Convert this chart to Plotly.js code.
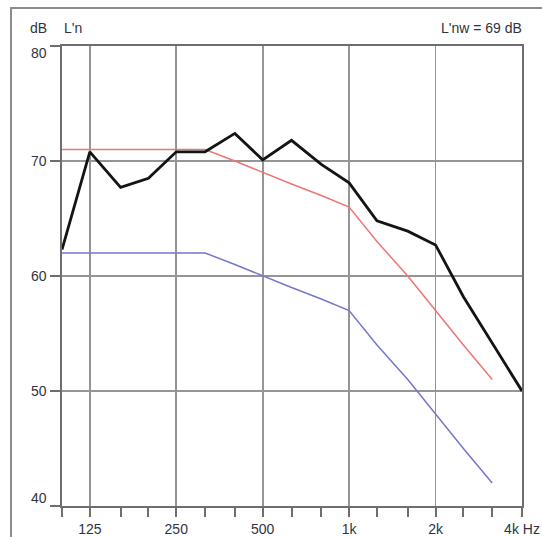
<!DOCTYPE html>
<html>
<head>
<meta charset="utf-8">
<script src="https://cdn.plot.ly/plotly-3.0.1.min.js"></script>
<style>
html,body{margin:0;padding:0;background:#fff;}
#frame{position:absolute;left:10px;top:7px;width:600px;height:600px;border-left:2px solid #8c8c8c;border-top:2px solid #8c8c8c;}
#chart{position:absolute;left:0;top:0;width:542px;height:537px;}
</style>
</head>
<body>
<div id="frame"></div>
<div id="chart"></div>
<script>
// Third-octave band centre frequencies (Hz)
const freqs = [100,125,160,200,250,315,400,500,630,800,1000,1250,1600,2000,2500,3150,4000];
// Measured L'n (dB)
const measured = [62.3,70.8,67.7,68.5,70.8,70.8,72.4,70.1,71.8,69.7,68.1,64.8,63.9,62.7,58.2,54.2,50.0];
// Reference curve bands
const refFreqs = [100,125,160,200,250,315,400,500,630,800,1000,1250,1600,2000,2500,3150];
// ISO 717-2 reference curve
const refCurve = [62,62,62,62,62,62,61,60,59,58,57,54,51,48,45,42];
// Shifted reference curve
const shiftedCurve = [71,71,71,71,71,71,70,69,68,67,66,63,60,57,54,51];
// Axis ticks
const majorTicks = [125,250,500,1000,2000,4000];
const majorLabels = ['125','250','500','1k','2k','4k Hz'];
const yTicks = [40,50,60,70,80];
const yLabels = ['40','50','60','70','80'];
const yLabelShift = [8,0,0,0,-7];

const txt = '#33333f';
const font = {family:'Liberation Sans, Arial, sans-serif', size:14, color:txt};

const traces = [
  {x:refFreqs, y:shiftedCurve, type:'scatter', mode:'lines', line:{color:'#f07474', width:1.5}, hoverinfo:'skip'},
  {x:refFreqs, y:refCurve, type:'scatter', mode:'lines', line:{color:'#7676cc', width:1.5}, hoverinfo:'skip'},
  {x:freqs, y:measured, type:'scatter', mode:'lines', line:{color:'#141414', width:2.8}, hoverinfo:'skip'}
];

const annotations = yTicks.map((v,i)=>({
  x:0, xref:'paper', y:v, yref:'y', text:yLabels[i], showarrow:false,
  xanchor:'right', yanchor:'middle', xshift:-13, yshift:yLabelShift[i], font:font
}));
annotations.push({x:0, xref:'paper', y:1, yref:'paper', text:'dB', showarrow:false, xanchor:'right', yanchor:'bottom', xshift:-13, yshift:8, font:font});
annotations.push({x:0, xref:'paper', y:1, yref:'paper', text:"L'n", showarrow:false, xanchor:'left', yanchor:'bottom', xshift:0, yshift:8, font:font});
annotations.push({x:1, xref:'paper', y:1, yref:'paper', text:"L'nw = 69 dB", showarrow:false, xanchor:'right', yanchor:'bottom', xshift:2, yshift:8, font:font});

const layout = {
  width:542, height:537,
  margin:{l:62, r:20, t:46, b:31, pad:0},
  paper_bgcolor:'rgba(0,0,0,0)', plot_bgcolor:'#fff',
  showlegend:false,
  font:font,
  xaxis:{
    type:'log', range:[Math.log10(100), Math.log10(4000)],
    tickmode:'array', tickvals:majorTicks, ticktext:majorLabels,
    ticks:'outside', ticklen:9, tickwidth:2, tickcolor:'#6e6e6e',
    showgrid:true, gridcolor:'#959595', gridwidth:1.8,
    showline:true, linecolor:'#6e6e6e', linewidth:2, mirror:true,
    zeroline:false, tickfont:font,
    minor:{tickmode:'array', tickvals:freqs, ticks:'outside', ticklen:9, tickwidth:2, tickcolor:'#6e6e6e', showgrid:false}
  },
  yaxis:{
    range:[40,80], tickmode:'array', tickvals:yTicks,
    ticks:'outside', ticklen:10, tickwidth:2, tickcolor:'#6e6e6e',
    showticklabels:false,
    showgrid:true, gridcolor:'#959595', gridwidth:1.8,
    showline:true, linecolor:'#6e6e6e', linewidth:2, mirror:true,
    zeroline:false
  },
  annotations:annotations
};

Plotly.newPlot('chart', traces, layout, {staticPlot:true, displayModeBar:false});
</script>
</body>
</html>
